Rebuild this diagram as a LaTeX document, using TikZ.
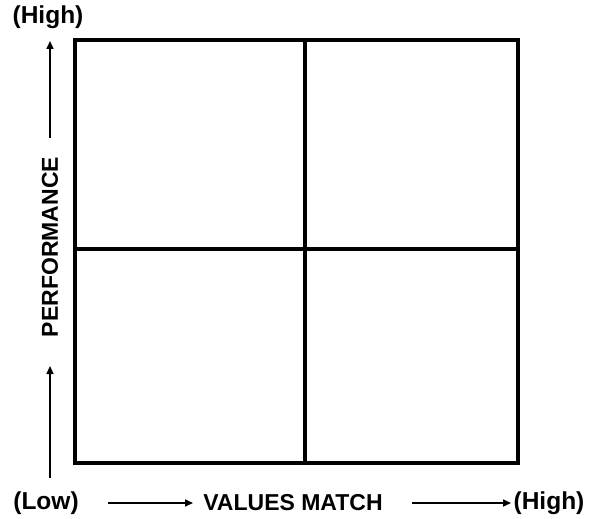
\documentclass[tikz,border=0pt]{standalone}
\usepackage{fontspec}
\setmainfont{Liberation Sans}
\usetikzlibrary{arrows.meta}
\begin{document}
\begin{tikzpicture}[x=1pt,y=-1pt,
  lbl/.style={font=\fontsize{23}{26}\selectfont\bfseries, inner sep=0pt},
  endlbl/.style={font=\fontsize{24.5}{28}\selectfont\bfseries, inner sep=0pt},
  axarrow/.style={line width=1.6pt, -{Triangle[length=8pt,width=7pt]}},
  grid/.style={line width=4pt}]
\useasboundingbox (0,0) rectangle (589,519);
\coordinate (tl) at (75,40);
\coordinate (br) at (518,463);
\draw[grid] (tl) rectangle (br);
\coordinate (vt) at (305,40);
\coordinate (vb) at (305,463);
\coordinate (hl) at (75,249);
\coordinate (hr) at (518,249);
\draw[grid] (vt) -- (vb);
\draw[grid] (hl) -- (hr);
\node[endlbl] (hightop) at (48,17) {(High)};
\node[endlbl] (low) at (46,503) {(Low)};
\node[lbl] (vm) at (293,503) {VALUES MATCH};
\node[endlbl] (highright) at (549,503) {(High)};
\node[lbl, rotate=90] (perf) at (50,247) {PERFORMANCE};
\coordinate (a1s) at (50,138);
\coordinate (a1e) at (50,41);
\coordinate (a2s) at (50,478);
\coordinate (a2e) at (50,366);
\coordinate (b1s) at (108,503);
\coordinate (b1e) at (193,503);
\coordinate (b2s) at (412,503);
\coordinate (b2e) at (511,503);
\draw[axarrow] (a1s) -- (a1e);
\draw[axarrow] (a2s) -- (a2e);
\draw[axarrow] (b1s) -- (b1e);
\draw[axarrow] (b2s) -- (b2e);
\end{tikzpicture}
\end{document}
